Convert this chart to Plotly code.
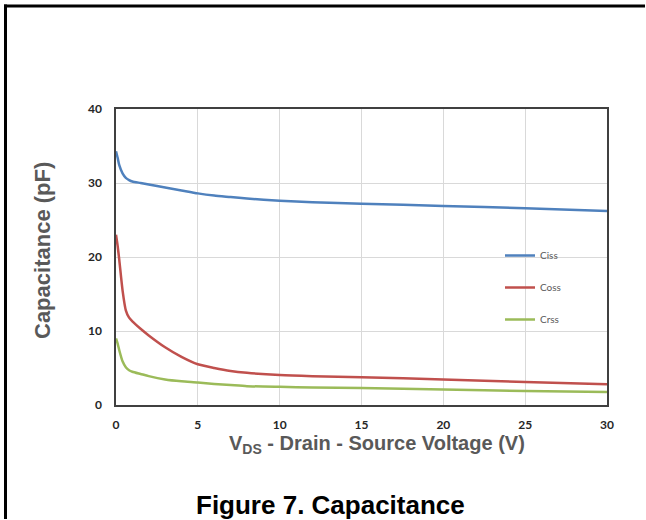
import plotly.graph_objects as go

# ---- data ----
vds = [0, 0.1, 0.2, 0.4, 0.6, 0.8, 1, 1.5, 2, 3, 4, 5, 6, 7, 8, 10, 12, 15, 20, 25, 30]
ciss = [34.3, 33.4, 32.4, 31.3, 30.7, 30.4, 30.2, 30.0, 29.8, 29.4, 29.0, 28.6, 28.3, 28.1, 27.9, 27.6, 27.4, 27.2, 26.9, 26.6, 26.2]
coss = [23.0, 21.5, 19.6, 15.5, 12.8, 11.8, 11.3, 10.3, 9.4, 7.8, 6.5, 5.5, 5.0, 4.6, 4.35, 4.05, 3.9, 3.75, 3.45, 3.1, 2.8]
crss = [9.0, 8.3, 7.4, 5.9, 5.1, 4.7, 4.5, 4.2, 3.9, 3.45, 3.2, 3.05, 2.85, 2.7, 2.55, 2.45, 2.38, 2.3, 2.1, 1.9, 1.75]

series_names = ["Ciss", "Coss", "Crss"]
series_colors = ["#4F81BD", "#C0504D", "#9BBB59"]

x_ticks = [0, 5, 10, 15, 20, 25, 30]
y_ticks = [0, 10, 20, 30, 40]

# ---- layout geometry (pixels) ----
W, H = 646, 520
ML, MR, MT, MB = 116, 39, 109, 115
PW = W - ML - MR
PH = H - MT - MB


def px(x):
    return (x - ML) / PW


def py(y):
    return (H - MB - y) / PH


fig = go.Figure()
for i, (name, vals, col) in enumerate(zip(series_names, [ciss, coss, crss], series_colors)):
    fig.add_trace(go.Scatter(
        x=vds, y=vals, mode="lines", name=name,
        line=dict(color=col, width=2.5, shape="spline", smoothing=0.6),
        legendgroup=name,
    ))

fig.update_layout(
    width=W, height=H,
    margin=dict(l=ML, r=MR, t=MT, b=MB, pad=0),
    paper_bgcolor="white", plot_bgcolor="white",
    showlegend=True,
    legend=dict(
        x=px(500), y=py(241), xanchor="left", yanchor="top",
        font=dict(family="Lato, Open Sans, sans-serif", size=10, color="#595959"),
        bgcolor="rgba(0,0,0,0)", tracegroupgap=13, itemwidth=30,
    ),
)

fig.update_xaxes(
    range=[0, 30], tickvals=x_ticks, ticktext=[str(v) for v in x_ticks],
    showgrid=True, gridcolor="#D9D9D9", gridwidth=1,
    showline=True, linecolor="#404040", linewidth=1.5, mirror=True,
    ticks="", zeroline=False,
    tickfont=dict(family="Lato, Liberation Sans, sans-serif", size=12, color="#262626", weight="bold"),
    ticklabelstandoff=8,
)
fig.update_yaxes(
    range=[0, 40], tickvals=y_ticks, ticktext=[str(v) for v in y_ticks],
    showgrid=True, gridcolor="#D9D9D9", gridwidth=1,
    showline=True, linecolor="#404040", linewidth=1.5, mirror=True,
    ticks="", zeroline=False,
    tickfont=dict(family="Lato, Liberation Sans, sans-serif", size=12, color="#262626", weight="bold"),
    ticklabelstandoff=10,
)

# axis titles and caption
fig.add_annotation(
    text="V<sub>DS</sub> - Drain - Source Voltage (V)", xref="paper", yref="paper",
    x=px(377), y=py(444), xanchor="center", yanchor="middle", showarrow=False,
    font=dict(family="Liberation Sans, Arial, sans-serif", size=20, color="#595959", weight="bold"),
)
fig.add_annotation(
    text="Capacitance (pF)", xref="paper", yref="paper", textangle=-90,
    x=px(42), y=py(251), xanchor="center", yanchor="middle", showarrow=False,
    font=dict(family="Liberation Sans, Arial, sans-serif", size=22, color="#595959", weight="bold"),
)
fig.add_annotation(
    text="Figure 7. Capacitance", xref="paper", yref="paper",
    x=px(330), y=py(505), xanchor="center", yanchor="middle", showarrow=False,
    font=dict(family="Liberation Sans, Arial, sans-serif", size=26, color="#000000", weight="bold"),
)

# outer frame (top and left edges)
fig.add_shape(type="line", xref="paper", yref="paper",
              x0=px(4), x1=px(W - 1), y0=py(6), y1=py(6),
              line=dict(color="black", width=3))
fig.add_shape(type="line", xref="paper", yref="paper",
              x0=px(5.5), x1=px(5.5), y0=py(4.5), y1=py(H - 1),
              line=dict(color="black", width=3))

fig.write_html(
    "out.html",
    config={"displayModeBar": False},
    post_script="document.body.style.margin='0px';document.body.style.overflow='hidden';",
)
